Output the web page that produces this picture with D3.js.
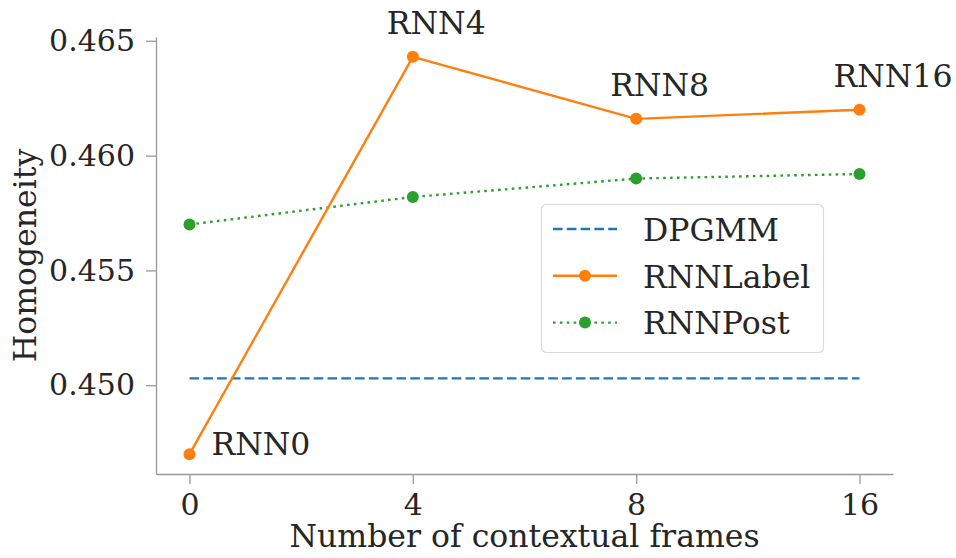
<!DOCTYPE html>
<html>
<head>
<meta charset="utf-8">
<script src="https://cdn.jsdelivr.net/npm/d3@7"></script>
<style>
  body { margin: 0; background: #fff; }
  text { font-family: "DejaVu Serif", serif; fill: #262626; }
</style>
</head>
<body>
<svg id="chart" width="956" height="558"></svg>
<script>
// Chart data
const frames = ["0", "4", "8", "16"];
const rnnLabel = [0.4470, 0.4643, 0.4616, 0.4620];
const rnnPost = [0.4570, 0.4582, 0.4590, 0.4592];
const dpgmm = [0.4503, 0.4503, 0.4503, 0.4503];
const pointNames = ["RNN0", "RNN4", "RNN8", "RNN16"];
const yTicks = [0.450, 0.455, 0.460, 0.465];

const svg = d3.select("#chart");
const mLeft = 156, mRight = 893, mTop = 37, mBottom = 474;
const tickFont = "30px", bigFont = "31.5px";
const dashed = "9.6,4.2", dotted = "2.6,4.3";

// x is categorical, with matplotlib-like margins
const x = d3.scaleLinear()
  .domain([-0.15, frames.length - 1 + 0.15])
  .range([mLeft, mRight]);

const lo = d3.min(rnnLabel), hi = d3.max(rnnLabel);
const pad = (hi - lo) * 0.05;
const y = d3.scaleLinear()
  .domain([lo - pad, hi + pad])
  .range([mBottom, mTop]);

// Axes
const xAxis = svg.append("g")
  .attr("transform", `translate(0,${mBottom})`)
  .call(d3.axisBottom(x).tickValues(d3.range(frames.length)).tickFormat(i => frames[i]).tickSize(10).tickPadding(10).tickSizeOuter(0));
const yAxis = svg.append("g")
  .attr("transform", `translate(${mLeft},0)`)
  .call(d3.axisLeft(y).tickValues(yTicks).tickFormat(d3.format(".3f")).tickSize(10).tickPadding(11).tickSizeOuter(0));

[xAxis, yAxis].forEach(g => {
  g.select(".domain").attr("stroke", "#999").attr("stroke-width", 1.3);
  g.selectAll(".tick line").attr("stroke", "#999").attr("stroke-width", 1.3);
  g.selectAll(".tick text").style("font-size", tickFont).attr("fill", "#262626");
});

// Axis labels
svg.append("text")
  .attr("x", (mLeft + mRight) / 2).attr("y", 547)
  .attr("text-anchor", "middle")
  .style("font-size", bigFont)
  .text("Number of contextual frames");
svg.append("text")
  .attr("transform", `translate(36,${(mTop + mBottom) / 2}) rotate(-90)`)
  .attr("text-anchor", "middle")
  .style("font-size", bigFont)
  .text("Homogeneity");

// Lines
const line = vals => d3.line().x((d, i) => x(i)).y(d => y(d))(vals);

svg.append("path").attr("d", line(dpgmm))
  .attr("fill", "none").attr("stroke", "#1f77b4").attr("stroke-width", 2.4)
  .attr("stroke-dasharray", dashed);

svg.append("path").attr("d", line(rnnPost))
  .attr("fill", "none").attr("stroke", "#2ca02c").attr("stroke-width", 2.4)
  .attr("stroke-dasharray", dotted);
svg.selectAll(".post").data(rnnPost).enter().append("circle")
  .attr("cx", (d, i) => x(i)).attr("cy", d => y(d)).attr("r", 6)
  .attr("fill", "#2ca02c");

svg.append("path").attr("d", line(rnnLabel))
  .attr("fill", "none").attr("stroke", "#ff7f0e").attr("stroke-width", 2.4);
svg.selectAll(".label").data(rnnLabel).enter().append("circle")
  .attr("cx", (d, i) => x(i)).attr("cy", d => y(d)).attr("r", 6)
  .attr("fill", "#ff7f0e");

// Point annotations
svg.selectAll(".ann").data(rnnLabel).enter().append("text")
  .attr("x", (d, i) => x(i) + (i === 0 ? 22 : -26))
  .attr("y", (d, i) => y(d) + (i === 0 ? 1 : -22.5))
  .style("font-size", bigFont)
  .text((d, i) => pointNames[i]);

// Legend
const legend = svg.append("g").attr("transform", "translate(541,204)");
legend.append("rect")
  .attr("x", 0.5).attr("y", 0.5).attr("width", 282).attr("height", 148)
  .attr("rx", 5).attr("fill", "#fff").attr("stroke", "#d9d9d9").attr("stroke-width", 1.2);

const entries = [
  { name: "DPGMM", color: "#1f77b4", dash: dashed, marker: false },
  { name: "RNNLabel", color: "#ff7f0e", dash: null, marker: true },
  { name: "RNNPost", color: "#2ca02c", dash: dotted, marker: true }
];
entries.forEach((e, i) => {
  const cy = 25 + i * 46.8;
  legend.append("line")
    .attr("x1", 12).attr("x2", 76).attr("y1", cy).attr("y2", cy)
    .attr("stroke", e.color).attr("stroke-width", 2.4)
    .attr("stroke-dasharray", e.dash);
  if (e.marker) {
    legend.append("circle").attr("cx", 44).attr("cy", cy).attr("r", 6).attr("fill", e.color);
  }
  legend.append("text")
    .attr("x", 102).attr("y", cy + 11.7)
    .style("font-size", bigFont)
    .text(e.name);
});
</script>
</body>
</html>
